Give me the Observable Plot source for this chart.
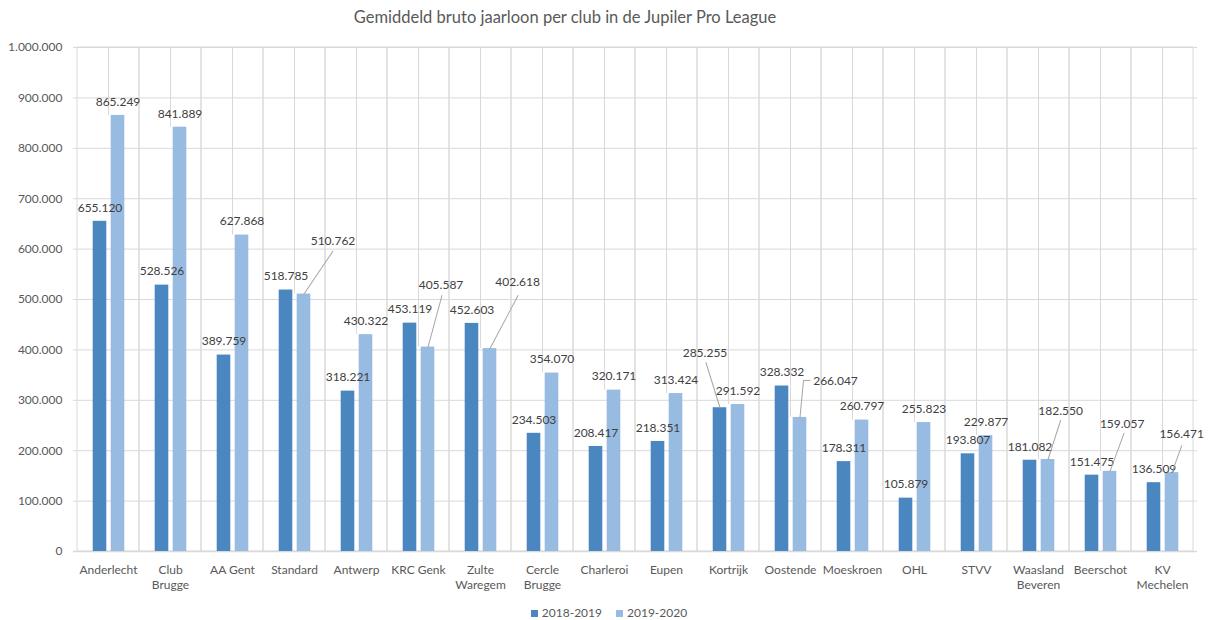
<!DOCTYPE html>
<html>
<head>
<meta charset="utf-8">
<script src="https://cdn.jsdelivr.net/npm/d3@7"></script>
<script src="https://cdn.jsdelivr.net/npm/@observablehq/plot@0.6"></script>
<style>
  body { margin: 0; background: #fff; font-family: Lato, "Open Sans", sans-serif; }
  #title { position: relative; height: 36px; }
  #title span { position: absolute; left: 0; width: 1130px; top: 7px; text-align: center;
    font-size: 16.5px; line-height: 20px; color: #595959; }
  #legend { margin-top: 5px; height: 24px; line-height: 24px; display: flex; justify-content: center;
    gap: 14px; font-size: 12px; color: #595959; padding-left: 6px; }
  #legend .item { display: flex; align-items: center; gap: 4px; }
  #legend .sw { width: 7px; height: 7px; display: inline-block; }
</style>
</head>
<body>
<div id="title"><span>Gemiddeld bruto jaarloon per club in de Jupiler Pro League</span></div>
<div id="chart"></div>
<div id="legend"></div>
<script>
// ---- data ----
const clubs = ["Anderlecht", "Club Brugge", "AA Gent", "Standard", "Antwerp", "KRC Genk", "Zulte Waregem",
  "Cercle Brugge", "Charleroi", "Eupen", "Kortrijk", "Oostende", "Moeskroen", "OHL", "STVV",
  "Waasland Beveren", "Beerschot", "KV Mechelen"];
const clubLabels = ["Anderlecht", "Club\nBrugge", "AA Gent", "Standard", "Antwerp", "KRC Genk", "Zulte\nWaregem",
  "Cercle\nBrugge", "Charleroi", "Eupen", "Kortrijk", "Oostende", "Moeskroen", "OHL", "STVV",
  "Waasland\nBeveren", "Beerschot", "KV\nMechelen"];
const series = ["2018-2019", "2019-2020"];
const salary2018 = [655120, 528526, 389759, 518785, 318221, 453119, 452603, 234503, 208417, 218351,
  285255, 328332, 178311, 105879, 193807, 181082, 151475, 136509];
const salary2019 = [865249, 841889, 627868, 510762, 430322, 405587, 402618, 354070, 320171, 313424,
  291592, 266047, 260797, 255823, 229877, 182550, 159057, 156471];
const yTicks = [0, 100000, 200000, 300000, 400000, 500000, 600000, 700000, 800000, 900000, 1000000];

// ---- label layout (pixel offsets of moved data labels and their leader lines) ----
const leaderLayout = [
  {club: "Standard", s: 1, label: [29, -52.6], line: [[29, -43]]},
  {club: "KRC Genk", s: 1, label: [13, -61.6], line: [[14, -51.6]]},
  {club: "Zulte Waregem", s: 1, label: [27.6, -66], line: [[28, -53]]},
  {club: "Kortrijk", s: 0, label: [-15, -55], line: [[-14, -45]]},
  {club: "Oostende", s: 1, label: [35.5, -36], line: [[3.5, -37], [10, -37]]},
  {club: "Waasland Beveren", s: 1, label: [12.6, -48], line: [[12.6, -39]]},
  {club: "Beerschot", s: 1, label: [12.2, -46.8], line: [[14, -38]]},
  {club: "KV Mechelen", s: 1, label: [9.7, -38], line: [[9.7, -27]]}
];

const colors = ["#4a86bf", "#98bbe2"];
const barOffset = [-8.5, 9.5];
const labelDy = -13.5;

const fmt = d3.formatLocale({decimal: ",", thousands: ".", grouping: [3], currency: ["€", ""]}).format(",d");
const rows = clubs.map((c, i) => ({club: c, v2018: salary2018[i], v2019: salary2019[i]}));
const keys = ["v2018", "v2019"];
const isLeader = (club, s) => leaderLayout.some(l => l.club === club && l.s === s);

const lineShape = {draw(context, l) { context.moveTo(0, 0); context.lineTo(0, -l); }};

const leaderMarks = [];
for (const L of leaderLayout) {
  const row = rows.filter(r => r.club === L.club);
  const key = keys[L.s];
  leaderMarks.push(Plot.text(row, {x: "club", y: key, text: d => fmt(d[key]),
    dx: barOffset[L.s] + L.label[0], dy: L.label[1], fill: "#404040", fontSize: 12}));
  let px = 0, py = 0;
  for (const [ex, ey] of L.line) {
    const vx = ex - px, vy = ey - py;
    const len = Math.hypot(vx, vy);
    const rot = Math.atan2(vx, -vy) * 180 / Math.PI;
    leaderMarks.push(Plot.vector(row, {x: "club", y: key, dx: barOffset[L.s] + px, dy: py,
      length: len, rotate: rot, anchor: "start", shape: lineShape, stroke: "#a6a6a6", strokeWidth: 1}));
    px = ex; py = ey;
  }
}

const chart = Plot.plot({
  width: 1212,
  height: 560,
  marginLeft: 73,
  marginRight: 15,
  marginTop: 11,
  marginBottom: 45,
  style: {fontFamily: "Lato, 'Open Sans', sans-serif", fontSize: "12px", color: "#595959", background: "#fff"},
  x: {type: "band", domain: clubs, padding: 0},
  y: {domain: [0, 1000000]},
  marks: [
    Plot.gridY({ticks: yTicks, stroke: "#d9d9d9", strokeOpacity: 1, strokeWidth: 1}),
    Plot.barY(clubs, {x: d => d, y1: 0, y2: 1000000, fill: "none", stroke: "#d9d9d9", strokeWidth: 1}),
    Plot.ruleX(rows, {x: "club", y1: "v2019", y2: 1000000, stroke: "#d9d9d9", strokeWidth: 1}),
    Plot.ruleY([0], {stroke: "#d9d9d9", strokeWidth: 1.5}),
    Plot.barY(rows, {x: "club", y: "v2018", fill: colors[0], insetLeft: 15.7, insetRight: 32.7}),
    Plot.barY(rows, {x: "club", y: "v2019", fill: colors[1], insetLeft: 33.7, insetRight: 14.7}),
    Plot.text(rows.filter(r => !isLeader(r.club, 0)), {x: "club", y: "v2018", text: d => fmt(d.v2018),
      dx: barOffset[0], dy: labelDy, fill: "#404040", fontSize: 12}),
    Plot.text(rows.filter(r => !isLeader(r.club, 1)), {x: "club", y: "v2019", text: d => fmt(d.v2019),
      dx: barOffset[1], dy: labelDy, fill: "#404040", fontSize: 12}),
    ...leaderMarks,
    Plot.axisY({ticks: yTicks, tickSize: 0, tickPadding: 11, tickFormat: fmt, label: null, fill: "#595959", fontSize: 12}),
    Plot.axisX({tickSize: 0, tickPadding: 12, tickFormat: c => clubLabels[clubs.indexOf(c)], label: null,
      fill: "#595959", fontSize: 12, lineHeight: 1.25})
  ]
});
document.getElementById("chart").appendChild(chart);

const legend = document.getElementById("legend");
series.forEach((s, i) => {
  const item = document.createElement("span");
  item.className = "item";
  const sw = document.createElement("span");
  sw.className = "sw";
  sw.style.background = colors[i];
  item.appendChild(sw);
  item.appendChild(document.createTextNode(s));
  legend.appendChild(item);
});
</script>
</body>
</html>
